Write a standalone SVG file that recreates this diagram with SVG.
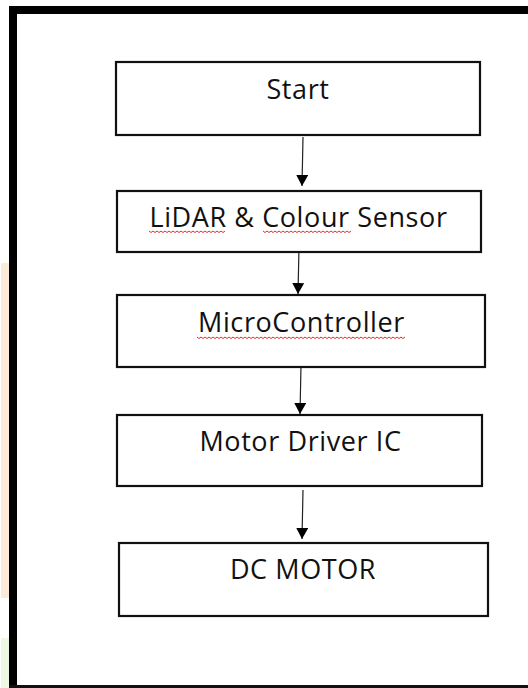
<svg xmlns="http://www.w3.org/2000/svg" width="528" height="688" viewBox="0 0 528 688">
<style>
.box{fill:#fff;stroke:#111;stroke-width:2.2}
.lbl{font-family:"Open Sans","Noto Sans","Liberation Sans",sans-serif;font-size:27px;letter-spacing:0.6px;fill:#111;text-anchor:middle}
.con{stroke:#222;stroke-width:1.2;fill:none}
.sq{stroke:#e0302a;stroke-width:1;fill:none}
</style>
<defs>
<marker id="ah" viewBox="0 0 11 12" refX="11" refY="6" markerWidth="11" markerHeight="12" markerUnits="userSpaceOnUse" orient="auto">
<path d="M0,0 L11,6 L0,12 Z" fill="#000"/>
</marker>
</defs>
<rect x="0" y="0" width="528" height="688" fill="#fff"/>
<rect x="1" y="263" width="8" height="335" fill="#fdebd8"/>
<rect x="1" y="638" width="8" height="50" fill="#eef8e4"/>
<g id="frame">
<rect x="9" y="6" width="519" height="8" fill="#000"/>
<rect x="9" y="6" width="8" height="682" fill="#000"/>
<rect x="9" y="685" width="519" height="3" fill="#111"/>
</g>
<g id="connectors">
<line class="con" x1="303" y1="137" x2="302" y2="186" marker-end="url(#ah)"/>
<line class="con" x1="299" y1="247" x2="298" y2="294" marker-end="url(#ah)"/>
<line class="con" x1="301" y1="365" x2="300" y2="414" marker-end="url(#ah)"/>
<line class="con" x1="303" y1="490" x2="302" y2="539" marker-end="url(#ah)"/>
</g>
<g id="start">
<rect class="box" x="116" y="62" width="364" height="73"/>
<text class="lbl" x="298" y="99">Start</text>
</g>
<g id="sensor">
<rect class="box" x="117" y="191" width="364" height="61"/>
<text class="lbl" x="298.5" y="227">LiDAR &amp; Colour Sensor</text>
<path class="sq" d="M149,231 l2,1.5 l2,-1.5 l2,1.5 l2,-1.5 l2,1.5 l2,-1.5 l2,1.5 l2,-1.5 l2,1.5 l2,-1.5 l2,1.5 l2,-1.5 l2,1.5 l2,-1.5 l2,1.5 l2,-1.5 l2,1.5 l2,-1.5 l2,1.5 l2,-1.5 l2,1.5 l2,-1.5 l2,1.5 l2,-1.5 l2,1.5 l2,-1.5 l2,1.5 l2,-1.5 l2,1.5 l2,-1.5 l2,1.5 l2,-1.5 l2,1.5 l2,-1.5 l2,1.5 l2,-1.5 l2,1.5 l2,-1.5"/>
<path class="sq" d="M263,231 l2,1.5 l2,-1.5 l2,1.5 l2,-1.5 l2,1.5 l2,-1.5 l2,1.5 l2,-1.5 l2,1.5 l2,-1.5 l2,1.5 l2,-1.5 l2,1.5 l2,-1.5 l2,1.5 l2,-1.5 l2,1.5 l2,-1.5 l2,1.5 l2,-1.5 l2,1.5 l2,-1.5 l2,1.5 l2,-1.5 l2,1.5 l2,-1.5 l2,1.5 l2,-1.5 l2,1.5 l2,-1.5 l2,1.5 l2,-1.5 l2,1.5 l2,-1.5 l2,1.5 l2,-1.5 l2,1.5 l2,-1.5 l2,1.5 l2,-1.5 l2,1.5 l2,-1.5 l2,1.5 l2,-1.5"/>
</g>
<g id="micro">
<rect class="box" x="117" y="295" width="368" height="72"/>
<text class="lbl" x="301.5" y="332">MicroController</text>
<path class="sq" d="M197,337 l2,1.5 l2,-1.5 l2,1.5 l2,-1.5 l2,1.5 l2,-1.5 l2,1.5 l2,-1.5 l2,1.5 l2,-1.5 l2,1.5 l2,-1.5 l2,1.5 l2,-1.5 l2,1.5 l2,-1.5 l2,1.5 l2,-1.5 l2,1.5 l2,-1.5 l2,1.5 l2,-1.5 l2,1.5 l2,-1.5 l2,1.5 l2,-1.5 l2,1.5 l2,-1.5 l2,1.5 l2,-1.5 l2,1.5 l2,-1.5 l2,1.5 l2,-1.5 l2,1.5 l2,-1.5 l2,1.5 l2,-1.5 l2,1.5 l2,-1.5 l2,1.5 l2,-1.5 l2,1.5 l2,-1.5 l2,1.5 l2,-1.5 l2,1.5 l2,-1.5 l2,1.5 l2,-1.5 l2,1.5 l2,-1.5 l2,1.5 l2,-1.5 l2,1.5 l2,-1.5 l2,1.5 l2,-1.5 l2,1.5 l2,-1.5 l2,1.5 l2,-1.5 l2,1.5 l2,-1.5 l2,1.5 l2,-1.5 l2,1.5 l2,-1.5 l2,1.5 l2,-1.5 l2,1.5 l2,-1.5 l2,1.5 l2,-1.5 l2,1.5 l2,-1.5 l2,1.5 l2,-1.5 l2,1.5 l2,-1.5 l2,1.5 l2,-1.5 l2,1.5 l2,-1.5 l2,1.5 l2,-1.5 l2,1.5 l2,-1.5 l2,1.5 l2,-1.5 l2,1.5 l2,-1.5 l2,1.5 l2,-1.5 l2,1.5 l2,-1.5 l2,1.5 l2,-1.5 l2,1.5 l2,-1.5 l2,1.5 l2,-1.5 l2,1.5 l2,-1.5"/>
</g>
<g id="driver">
<rect class="box" x="117" y="415" width="365" height="71"/>
<text class="lbl" x="300.5" y="451">Motor Driver IC</text>
</g>
<g id="motor">
<rect class="box" x="119" y="543" width="369" height="73"/>
<text class="lbl" x="303" y="579">DC MOTOR</text>
</g>
</svg>
